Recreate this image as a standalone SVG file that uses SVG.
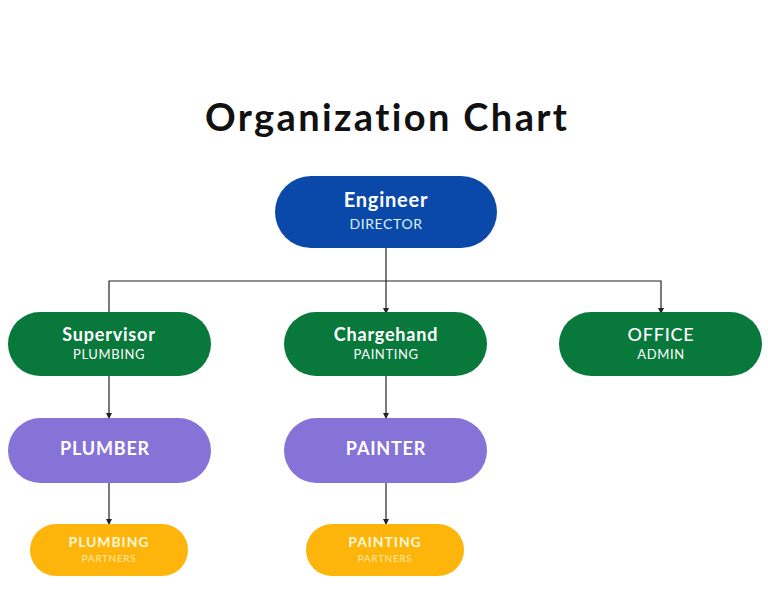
<svg xmlns="http://www.w3.org/2000/svg" width="768" height="597" viewBox="0 0 768 597">
<style>
text{font-family:"Lato","Open Sans","Liberation Sans",sans-serif;text-anchor:middle;font-variant-ligatures:none;font-feature-settings:"liga" 0,"dlig" 0}
.t1{font-size:19px;font-weight:700;fill:#ffffff;letter-spacing:0.8px}
.t2{font-size:14px;font-weight:400;fill:#ffffff;letter-spacing:0.6px}
.t3{font-size:14px;font-weight:700;fill:#fff6d8;letter-spacing:0.9px}
.t4{font-size:10px;font-weight:400;fill:#fde9a8;letter-spacing:0.7px}
.blue{fill:#0a49aa}
.green{fill:#08783b}
.purple{fill:#8673d7}
.orange{fill:#fdb50b}
.c{stroke:#222;stroke-width:1.2;fill:none;marker-end:url(#a)}
</style>
<defs>
<marker id="a" markerWidth="6" markerHeight="6" refX="5" refY="3" orient="auto" markerUnits="userSpaceOnUse">
<path d="M0,0 L6,3 L0,6 z" fill="#222"/>
</marker>
</defs>
<rect width="768" height="597" fill="#ffffff"/>
<text x="386" y="131" style="font-size:38px;font-weight:700;fill:#111" textLength="362" lengthAdjust="spacing">Organization Chart</text>
<g id="connectors">
<path class="c" d="M386,248 V313"/>
<path class="c" d="M109,313 V281 H661 V313"/>
<path class="c" d="M109,376 V418"/>
<path class="c" d="M386,376 V418"/>
<path class="c" d="M109,483 V524"/>
<path class="c" d="M386,483 V524"/>
</g>
<g id="engineer"><rect class="blue" x="275" y="176" width="222" height="72" rx="36"/><text class="t1" x="386" y="207" style="font-size:20px">Engineer</text><text class="t2" x="386" y="229" style="fill:#dff0fa">DIRECTOR</text></g>
<g id="supervisor"><rect class="green" x="8" y="312" width="203" height="64" rx="32"/><text class="t1" x="109" y="341" style="font-size:18px">Supervisor</text><text class="t2" x="109" y="359" style="font-size:13px">PLUMBING</text></g>
<g id="chargehand"><rect class="green" x="284" y="312" width="203" height="64" rx="32"/><text class="t1" x="386" y="341" style="font-size:18px">Chargehand</text><text class="t2" x="386" y="359" style="font-size:13px">PAINTING</text></g>
<g id="office"><rect class="green" x="559" y="312" width="203" height="64" rx="32"/><text class="t1" x="661" y="341" style="font-size:18px;font-weight:500">OFFICE</text><text class="t2" x="661" y="359" style="font-size:13px">ADMIN</text></g>
<g id="plumber"><rect class="purple" x="8" y="418" width="203" height="65" rx="32.5"/><text class="t1" x="105" y="455" style="font-size:18px">PLUMBER</text></g>
<g id="painter"><rect class="purple" x="284" y="418" width="203" height="65" rx="32.5"/><text class="t1" x="386" y="455" style="font-size:18px">PAINTER</text></g>
<g id="plumbing-partners"><rect class="orange" x="30" y="524" width="158" height="52" rx="26"/><text class="t3" x="109" y="547">PLUMBING</text><text class="t4" x="109" y="562">PARTNERS</text></g>
<g id="painting-partners"><rect class="orange" x="306" y="524" width="158" height="52" rx="26"/><text class="t3" x="385" y="547">PAINTING</text><text class="t4" x="385" y="562">PARTNERS</text></g>
</svg>
